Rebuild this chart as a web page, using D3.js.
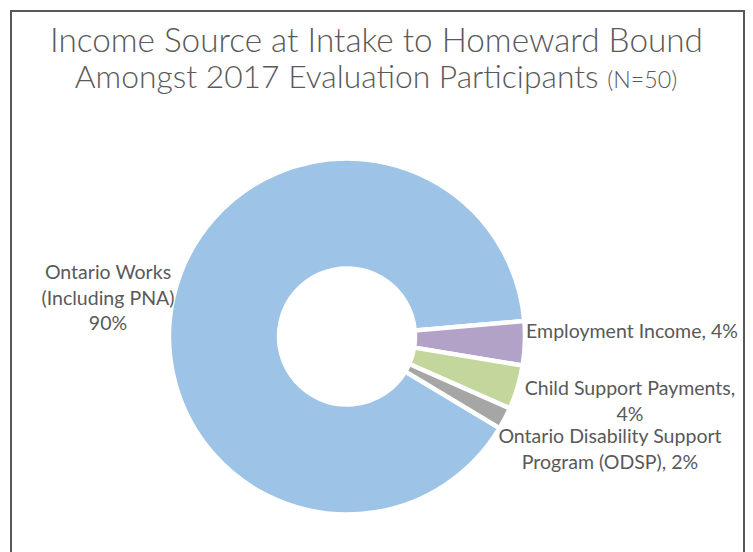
<!DOCTYPE html>
<html>
<head>
<meta charset="utf-8">
<script src="https://cdn.jsdelivr.net/npm/d3@7"></script>
<style>
  html, body { margin: 0; padding: 0; background: #fff; }
  svg { display: block; }
</style>
</head>
<body>
<svg id="chart" width="753" height="552"></svg>
<script>
// Income source at intake, share of participants (N=50)
var categories = [
  'Ontario Works (Including PNA)',
  'Employment Income',
  'Child Support Payments',
  'Ontario Disability Support Program (ODSP)'
];
var shares = [90, 4, 4, 2];
var colors = ['#9DC3E6', '#B3A2C7', '#C3D69B', '#A6A6A6'];

// label text, one entry per line
var labelLines = [
  ['Ontario Works', '(Including PNA)', '90%'],
  ['Employment Income, 4%'],
  ['Child Support Payments,', '4%'],
  ['Ontario Disability Support', 'Program (ODSP), 2%']
];

var titleLines = ['Income Source at Intake to Homeward Bound',
  'Amongst 2017 Evaluation Participants'];
var titleNote = '(N=50)';

// ─── layout ─────────────────────────────────────────────────────────────────
var W = 753, H = 552;
var cx = 347, cy = 336.5, outerR = 178, innerR = 68;
var firstSliceAngle = 121; // degrees, clockwise from 12 o'clock
var TEXT = '#595959';
var labelFont = 'Lato, Calibri, Carlito, "Open Sans", sans-serif';
var titleFont = '"Century Gothic", Lato, "Open Sans", sans-serif';
// label block anchors: center x, first baseline y
var labelAnchors = [
  { x: 108, y: 279 },
  { x: 632, y: 338 },
  { x: 630, y: 395 },
  { x: 610, y: 443 }
];
var lineStep = 25.5;

var svg = d3.select('#chart');

svg.append('rect')
  .attr('x', 11).attr('y', 11)
  .attr('width', 733).attr('height', 560)
  .attr('fill', '#fff')
  .attr('stroke', '#595959')
  .attr('stroke-width', 2);

// fit a font size so a text reaches a target width
function fitSize(family, weight, text, base, target) {
  var t = svg.append('text')
    .attr('font-family', family)
    .attr('font-weight', weight)
    .attr('font-size', base)
    .text(text);
  var w = t.node().getComputedTextLength();
  t.remove();
  return base * target / w;
}

var titleSize = fitSize(titleFont, 300, titleLines[0], 28, 653);
var title2Size = fitSize(titleFont, 300, titleLines[1], 28, 524);
var noteSize = fitSize(titleFont, 300, titleNote, 16, 70);
var labelSize = fitSize(labelFont, 400, labelLines[1][0], 20, 212);

// ─── title ─────────────────────────────────────────────────────────────────
var title = svg.append('g').attr('fill', TEXT)
  .attr('font-family', titleFont)
  .attr('font-weight', 300);

title.append('text')
  .attr('x', 376.5).attr('y', 52)
  .attr('text-anchor', 'middle')
  .attr('font-size', titleSize)
  .text(titleLines[0]);

var t2 = title.append('text')
  .attr('x', 376).attr('y', 88)
  .attr('text-anchor', 'middle')
  .attr('font-size', title2Size);
t2.append('tspan').text(titleLines[1] + ' ');
t2.append('tspan').attr('font-size', noteSize).text(titleNote);

// ─── donut ─────────────────────────────────────────────────────────────────
var start = firstSliceAngle * Math.PI / 180;
var pie = d3.pie().sort(null).startAngle(start).endAngle(start + 2 * Math.PI);
var arc = d3.arc().innerRadius(innerR).outerRadius(outerR);

var slices = pie(shares);

svg.append('g')
  .attr('transform', 'translate(' + cx + ',' + cy + ')')
  .selectAll('path')
  .data(slices)
  .join('path')
  .attr('d', arc)
  .attr('fill', function (d, i) { return colors[i]; })
  .attr('stroke', '#fff')
  .attr('stroke-width', 4.5)
  .attr('stroke-linejoin', 'miter')
  .append('title')
  .text(function (d, i) { return categories[i] + ': ' + d.data + '%'; });

// ─── labels ────────────────────────────────────────────────────────────────
var labels = svg.append('g')
  .attr('fill', TEXT)
  .attr('font-family', labelFont)
  .attr('font-size', labelSize)
  .attr('text-anchor', 'middle');

labelLines.forEach(function (lines, i) {
  var txt = labels.append('text')
    .attr('x', labelAnchors[i].x)
    .attr('y', labelAnchors[i].y);
  lines.forEach(function (line, j) {
    txt.append('tspan')
      .attr('x', labelAnchors[i].x)
      .attr('dy', j === 0 ? 0 : lineStep)
      .text(line);
  });
});
</script>
</body>
</html>
